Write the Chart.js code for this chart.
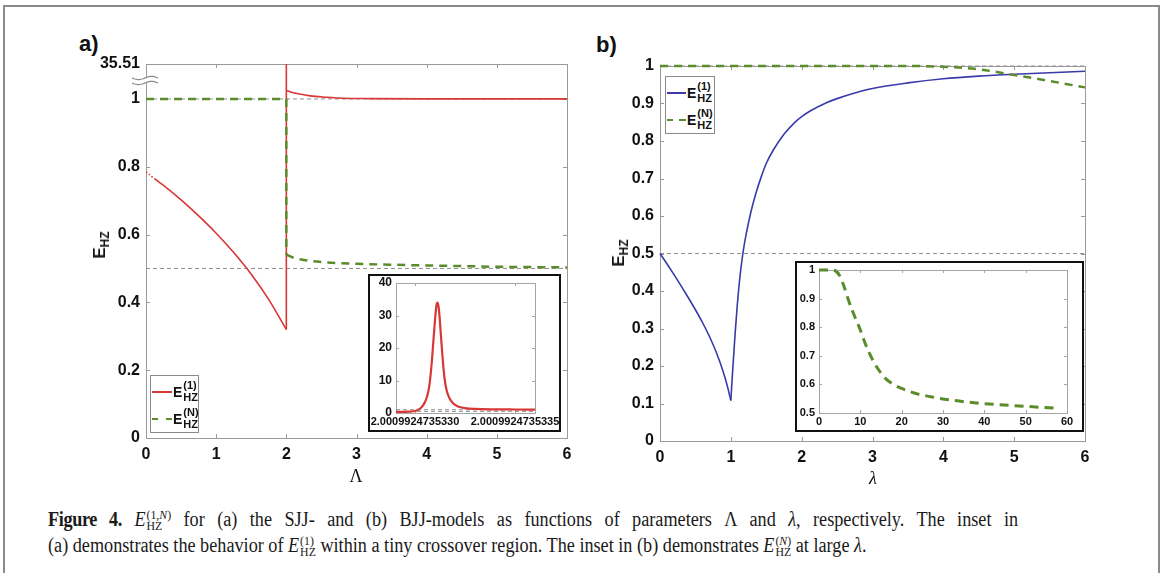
<!DOCTYPE html>
<html lang="en">
<head>
<meta charset="UTF-8">
<title>Figure 4 - E_HZ for the SJJ and BJJ models</title>
<script src="https://cdn.jsdelivr.net/npm/chart.js"></script>
<style>
  html, body { margin: 0; padding: 0; background: #fff; }
  body { width: 1165px; height: 573px; position: relative; overflow: hidden;
         font-family: 'Liberation Sans', Arial, sans-serif; color: #111; }
  .page-frame { position: absolute; left: 3px; top: 5px; width: 1157px; height: 640px;
                border: 2px solid #8a8a8a; box-sizing: border-box; }
  canvas { position: absolute; }
  .tag { position: absolute; font: bold 22px 'Liberation Sans', Arial, sans-serif; }
  .ytitle { position: absolute; transform: translate(-50%, -50%) rotate(-90deg);
            font: bold 17px 'Liberation Sans', Arial, sans-serif; white-space: nowrap; }
  .ytitle sub { font-size: 12px; vertical-align: -4px; }
  .xtitle { position: absolute; transform: translate(-50%, -50%);
            font: 18px 'Liberation Serif', 'Times New Roman', serif; }
  .inset { position: absolute; border: 2px solid #111; background: #fff; box-sizing: border-box; }
  .legend { position: absolute; border: 1px solid #8a8a8a; background: #fff; box-sizing: border-box; }
  .lg-row { position: absolute; left: 1px; height: 26px; display: flex; align-items: center; }
  .lg-line { height: 2px; margin-right: 1px; }
  .lg-e { font: bold 14px 'Liberation Sans', Arial, sans-serif; }
  .lg-ss { display: flex; flex-direction: column; font: bold 11px 'Liberation Sans', Arial, sans-serif;
           line-height: 12px; margin-left: 1px; padding-bottom: 2px; }
  .caption { position: absolute; left: 48px; white-space: nowrap; transform: scaleX(0.91);
             transform-origin: 0 0; font: 20px 'Liberation Serif', 'Times New Roman', serif;
             line-height: 26px; color: #1a1a1a; }
  .caption.first { width: 1066px; text-align: justify; text-align-last: justify; }
  .caption b { letter-spacing: -0.4px; }
  .ms { display: inline-flex; flex-direction: column; font-size: 13px; line-height: 11px;
        vertical-align: 7px; margin-left: 1px; }
</style>
</head>
<body>
<div class="page-frame"></div>

<div class="tag" style="left:79px;top:31px">a)</div>
<div class="tag" style="left:596px;top:32px">b)</div>

<canvas id="chartA" width="530" height="460" style="left:60px;top:40px"></canvas>
<canvas id="chartB" width="530" height="460" style="left:580px;top:40px"></canvas>

<div class="ytitle" style="left:101px;top:245px">E<sub>HZ</sub></div>
<div class="ytitle" style="left:620px;top:253px">E<sub>HZ</sub></div>
<div class="xtitle" style="left:356px;top:476px">Λ</div>
<div class="xtitle" style="left:873px;top:478px"><i>λ</i></div>

<!-- inset (a): tiny crossover region -->
<div class="inset" style="left:368px;top:274px;width:193px;height:158px"></div>
<canvas id="insetA" width="189" height="154" style="left:370px;top:276px"></canvas>

<!-- inset (b): large lambda -->
<div class="inset" style="left:795px;top:261px;width:289px;height:171px"></div>
<canvas id="insetB" width="297" height="167" style="left:785px;top:263px"></canvas>

<!-- legends -->
<div class="legend" style="left:150px;top:375px;width:49px;height:58px">
  <div class="lg-row" style="top:3px">
    <span class="lg-line" style="width:20px;background:#d93636"></span>
    <span class="lg-e">E</span><span class="lg-ss"><span>(1)</span><span>HZ</span></span>
  </div>
  <div class="lg-row" style="top:30px">
    <span class="lg-line" style="width:20px;background:linear-gradient(90deg,#5b8c2b 0 6px,transparent 6px 14px,#5b8c2b 14px 20px)"></span>
    <span class="lg-e">E</span><span class="lg-ss"><span>(N)</span><span>HZ</span></span>
  </div>
</div>
<div class="legend" style="left:665px;top:76px;width:50px;height:58px">
  <div class="lg-row" style="top:3px">
    <span class="lg-line" style="width:19px;background:#3a3aaa"></span>
    <span class="lg-e">E</span><span class="lg-ss"><span>(1)</span><span>HZ</span></span>
  </div>
  <div class="lg-row" style="top:30px">
    <span class="lg-line" style="width:19px;background:linear-gradient(90deg,#5b8c2b 0 6px,transparent 6px 12px,#5b8c2b 12px 18px)"></span>
    <span class="lg-e">E</span><span class="lg-ss"><span>(N)</span><span>HZ</span></span>
  </div>
</div>

<div class="caption first" style="top:506px"><b>Figure 4.</b> <i>E</i><span class="ms"><span>(1,<i>N</i>)</span><span>HZ</span></span> for (a) the SJJ- and (b) BJJ-models as functions of parameters Λ and <i>λ</i>, respectively. The inset in</div>
<div class="caption" style="top:532px">(a) demonstrates the behavior of <i>E</i><span class="ms"><span>(1)</span><span>HZ</span></span> within a tiny crossover region. The inset in (b) demonstrates <i>E</i><span class="ms"><span>(<i>N</i>)</span><span>HZ</span></span> at large <i>λ</i>.</div>

<script>
// ---- (a) SJJ model, E_HZ^(1) below and above the crossover at Λ = 2 ----
const sjjLambdaLow = [0, 0.06, 0.12, 0.25, 0.5, 0.75, 1.0, 1.25, 1.5, 1.75, 2.0];
const sjjE1Low     = [0.785, 0.775, 0.765, 0.745, 0.702, 0.655, 0.604, 0.547, 0.483, 0.408, 0.32];
const sjjPeak      = 35.51;
const sjjLambdaHigh = [2.0, 2.1, 2.34, 2.57, 2.81, 3.2, 4, 5, 6];
const sjjE1High     = [1.025, 1.018, 1.009, 1.005, 1.002, 1.001, 1.0, 1.0, 1.0];
const sjjDottedUpTo = 0.12;

// (a) E_HZ^(N): flat at 1 up to the crossover, then drops and decays to 1/2
const sjjLambdaFlat = [0, 2];
const sjjENFlat     = [1, 1];
const sjjLambdaTail = [2, 2.1, 2.25, 2.5, 3, 3.5, 4, 4.5, 5, 5.5, 6];
const sjjENTail     = [0.541, 0.532, 0.525, 0.519, 0.514, 0.511, 0.509, 0.507, 0.505, 0.504, 0.503];

// (a) axis: linear up to just above 1, then broken up to the peak value
const sjjYTicks  = [0, 0.2, 0.4, 0.6, 0.8, 1];
const sjjYBreak  = 1.103;
const xTicks     = [0, 1, 2, 3, 4, 5, 6];

// (a) inset: Λ offset from 2.0009924735330 in units of 1e-13
const crossOffset = [-0.95, -0.6, -0.3, 0, 0.25, 0.45, 0.6, 0.72, 0.83, 0.93, 1.02, 1.08, 1.12,
                     1.17, 1.23, 1.3, 1.38, 1.47, 1.58, 1.72, 1.9, 2.15, 2.5, 3, 4, 5, 6];
const crossE1     = [0.35, 0.37, 0.42, 0.6, 1.3, 2.8, 5, 8.5, 15, 23, 30, 33.5, 34,
                     33, 29.5, 23.5, 17, 11, 7, 4.6, 3, 2, 1.5, 1.25, 1.12, 1.08, 1.06];
const crossTickOffsets = [0, 5];
const crossTickLabels  = ['2.0009924735330', '2.0009924735335'];
const crossYTicks      = [0, 10, 20, 30, 40];

// ---- (b) BJJ model, E_HZ^(1) falls to a cusp at λ = 1 and climbs back ----
const bjjLambdaDown = [0, 0.1, 0.2, 0.3, 0.4, 0.5, 0.6, 0.7, 0.8, 0.9, 0.95, 1.0];
const bjjE1Down     = [0.5, 0.472, 0.443, 0.413, 0.382, 0.35, 0.316, 0.278, 0.234, 0.18, 0.147, 0.108];
const bjjLambdaUp   = [1.0, 1.03, 1.06, 1.09, 1.13, 1.17, 1.22, 1.28, 1.35, 1.43, 1.5, 1.6, 1.75,
                       1.9, 2.0, 2.12, 2.35, 2.5, 2.75, 3.0, 3.5, 4.0, 4.5, 5.0, 5.5, 6.0];
const bjjE1Up       = [0.108, 0.2, 0.285, 0.36, 0.44, 0.5, 0.555, 0.608, 0.658, 0.705, 0.74, 0.776, 0.818,
                       0.849, 0.865, 0.88, 0.902, 0.913, 0.928, 0.94, 0.955, 0.966, 0.973, 0.978, 0.982, 0.986];
const bjjLambdaN = [0, 1, 2, 3, 3.5, 4.0, 4.5, 5.0, 5.5, 6.0];
const bjjEN      = [1, 1, 1, 1, 1, 0.998, 0.991, 0.976, 0.96, 0.943];
const bjjYTicks  = [0, 0.1, 0.2, 0.3, 0.4, 0.5, 0.6, 0.7, 0.8, 0.9, 1];

// (b) inset: E_HZ^(N) out to large λ
const largeLambda = [0, 2, 3, 4, 5, 6, 7, 8, 9, 10, 11, 12, 13, 14, 16, 18, 20, 23, 27, 32, 39, 47, 58];
const largeEN     = [1, 1, 1, 0.997, 0.98, 0.945, 0.9, 0.86, 0.825, 0.79, 0.75, 0.715, 0.685,
                     0.66, 0.622, 0.6, 0.586, 0.57, 0.557, 0.545, 0.534, 0.526, 0.516];
const largeXTicks = [0, 10, 20, 30, 40, 50, 60];
const largeYTicks = [0.5, 0.6, 0.7, 0.8, 0.9, 1];

const refLevels = [0.5, 1];

const RED = '#d93636';
const GREEN = '#5b8c2b';
const BLUE = '#3a3aaa';
const REF_GRAY = '#8f8f8f';
const TICK_FONT = "'Liberation Sans', Arial, sans-serif";

function pts(xs, ys) {
  return xs.map((x, i) => ({ x, y: ys[i] }));
}

function curve(data, color, width, extra) {
  return Object.assign({
    data, borderColor: color, borderWidth: width, pointRadius: 0, showLine: true,
    cubicInterpolationMode: 'monotone', clip: 3
  }, extra || {});
}

function refLines(x0, x1) {
  return refLevels.map(level => ({
    data: [{ x: x0, y: level }, { x: x1, y: level }],
    borderColor: REF_GRAY, borderWidth: 1, borderDash: [4, 3],
    pointRadius: 0, showLine: true, order: 5, clip: 2
  }));
}

function numLabel(v) {
  return String(+Number(v).toFixed(3));
}

// fixed axis sizes so the plot boxes land where they should
function axisFit(size) {
  return scale => {
    if (scale.isHorizontal()) scale.height = size; else scale.width = size;
    scale.paddingLeft = scale.paddingRight = scale.paddingTop = scale.paddingBottom = 0;
  };
}

function axis(cfg) {
  return {
    type: 'linear', min: cfg.min, max: cfg.max,
    afterFit: axisFit(cfg.size),
    afterBuildTicks: s => { s.ticks = cfg.ticks.map(v => ({ value: v })); },
    grid: { display: false, drawTicks: false },
    border: { display: false },
    ticks: {
      padding: cfg.pad, color: '#111', autoSkip: false, maxRotation: 0, minRotation: 0,
      font: { family: TICK_FONT, size: cfg.font, weight: 'bold' },
      callback: cfg.label || numLabel
    }
  };
}

// box around the plot area with MATLAB-style inward ticks
const framePlugin = {
  id: 'frame',
  beforeDatasetsDraw(chart, args, opts) {
    const { ctx, chartArea: a, scales: { x, y } } = chart;
    ctx.save();
    ctx.strokeStyle = opts.color;
    ctx.lineWidth = 1;
    ctx.strokeRect(Math.round(a.left) + 0.5, Math.round(a.top) + 0.5,
                   Math.round(a.right - a.left), Math.round(a.bottom - a.top));
    const t = opts.tick;
    ctx.beginPath();
    x.ticks.forEach(tk => {
      const px = Math.round(x.getPixelForValue(tk.value)) + 0.5;
      ctx.moveTo(px, a.bottom); ctx.lineTo(px, a.bottom - t);
      ctx.moveTo(px, a.top); ctx.lineTo(px, a.top + t);
    });
    y.ticks.forEach(tk => {
      const py = Math.round(y.getPixelForValue(tk.value)) + 0.5;
      ctx.moveTo(a.left, py); ctx.lineTo(a.left + t, py);
      ctx.moveTo(a.right, py); ctx.lineTo(a.right - t, py);
    });
    ctx.stroke();
    ctx.restore();
  }
};
Chart.register(framePlugin);

// wavy break mark on the y axis of panel (a)
const axisBreakPlugin = {
  id: 'axisBreak',
  afterDatasetsDraw(chart) {
    const { ctx, chartArea: a, scales: { y } } = chart;
    const yb = (y.getPixelForValue(1) + a.top) / 2 - 1;
    const x0 = a.left - 14, x1 = a.left + 12;
    ctx.save();
    ctx.fillStyle = '#fff';
    ctx.fillRect(a.left - 2, yb - 2.5, 4, 5);
    ctx.strokeStyle = '#8a8a8a';
    ctx.lineWidth = 1.2;
    [-2.5, 2.5].forEach(dy => {
      ctx.beginPath();
      for (let px = x0; px <= x1; px += 1) {
        const py = yb + dy + 1.6 * Math.sin((px - x0) / (x1 - x0) * 2 * Math.PI);
        if (px === x0) ctx.moveTo(px, py); else ctx.lineTo(px, py);
      }
      ctx.stroke();
    });
    ctx.restore();
  }
};

function baseOptions(padding, xAxis, yAxis, frame) {
  return {
    responsive: false, animation: false, events: [],
    layout: { padding },
    plugins: { legend: { display: false }, tooltip: { enabled: false }, frame },
    scales: { x: axis(xAxis), y: axis(yAxis) }
  };
}

// ---- panel (a) ----
const greenDash = { borderDash: [8, 6], order: 0 };
const lastLow = sjjE1Low[sjjE1Low.length - 1];

new Chart(document.getElementById('chartA'), {
  type: 'scatter',
  data: {
    datasets: [
      curve(pts(sjjLambdaFlat, sjjENFlat), GREEN, 2.5, greenDash),
      curve([{ x: 2, y: sjjENFlat[1] }, { x: 2, y: sjjENTail[0] }], GREEN, 2.5,
            Object.assign({ cubicInterpolationMode: 'default' }, greenDash)),
      curve(pts(sjjLambdaTail, sjjENTail), GREEN, 2.5, greenDash),
      curve(pts(sjjLambdaLow, sjjE1Low), RED, 1.6, {
        order: 1, clip: 0,
        segment: { borderDash: c => c.p1.parsed.x <= sjjDottedUpTo ? [1.5, 2] : undefined }
      }),
      // the jump at the crossover runs off the top of the broken axis
      curve([{ x: 2, y: lastLow }, { x: 2, y: sjjPeak }], RED, 1.6,
            { order: 1, clip: 0, cubicInterpolationMode: 'default' }),
      curve(pts(sjjLambdaHigh, sjjE1High), RED, 1.6, { order: 1, clip: 0 }),
      ...refLines(0, 6)
    ]
  },
  options: baseOptions(
    { left: 36, top: 24, right: 23, bottom: 32 },
    { min: 0, max: 6, size: 30, ticks: xTicks, pad: 7, font: 16 },
    { min: 0, max: sjjYBreak, size: 50, ticks: sjjYTicks.concat([sjjYBreak]), pad: 6, font: 16,
      label: v => v === sjjYBreak ? String(sjjPeak) : numLabel(v) },
    { color: '#9a9a9a', tick: 4 }
  ),
  plugins: [axisBreakPlugin]
});

// ---- panel (a) inset ----
new Chart(document.getElementById('insetA'), {
  type: 'scatter',
  data: {
    datasets: [
      curve(pts(crossOffset, crossE1), RED, 2.2, { order: 0, clip: 2 }),
      ...refLines(-0.95, 6)
    ]
  },
  options: baseOptions(
    { left: 2, top: 7, right: 24, bottom: 0 },
    { min: -0.95, max: 6, size: 17, ticks: crossTickOffsets, pad: 2, font: 11,
      label: v => crossTickLabels[crossTickOffsets.indexOf(v)] },
    { min: 0, max: 40, size: 24, ticks: crossYTicks, pad: 4, font: 12 },
    { color: '#a5a5a5', tick: 3 }
  )
});

// ---- panel (b) ----
new Chart(document.getElementById('chartB'), {
  type: 'scatter',
  data: {
    datasets: [
      curve(pts(bjjLambdaN, bjjEN), GREEN, 2.5, greenDash),
      curve(pts(bjjLambdaDown, bjjE1Down), BLUE, 1.6, { order: 1 }),
      curve(pts(bjjLambdaUp, bjjE1Up), BLUE, 1.6, { order: 1 }),
      ...refLines(0, 6)
    ]
  },
  options: baseOptions(
    { left: 30, top: 26, right: 25, bottom: 29 },
    { min: 0, max: 6, size: 30, ticks: xTicks, pad: 7, font: 16 },
    { min: 0, max: 1, size: 50, ticks: bjjYTicks, pad: 6, font: 16 },
    { color: '#9a9a9a', tick: 4 }
  )
});

// ---- panel (b) inset ----
new Chart(document.getElementById('insetB'), {
  type: 'scatter',
  data: {
    datasets: [
      curve(pts(largeLambda, largeEN), GREEN, 3, { borderDash: [9, 6] })
    ]
  },
  options: baseOptions(
    { left: 4, top: 7, right: 15, bottom: 2 },
    { min: 0, max: 60, size: 15, ticks: largeXTicks, pad: 2, font: 11 },
    { min: 0.5, max: 1, size: 30, ticks: largeYTicks, pad: 4, font: 11 },
    { color: '#a5a5a5', tick: 3 }
  )
});
</script>
</body>
</html>
